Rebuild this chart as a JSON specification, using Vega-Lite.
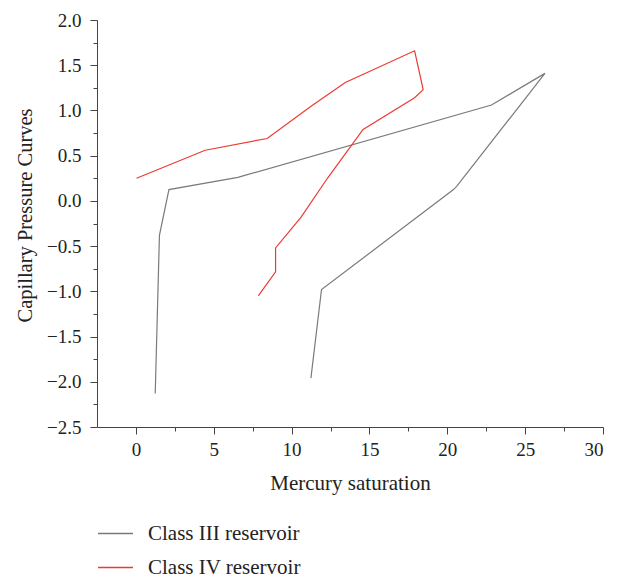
{
  "$schema": "https://vega.github.io/schema/vega-lite/v6.json",
  "width": 506,
  "height": 407,
  "autosize": "none",
  "padding": {"left": 97, "top": 20, "right": 21, "bottom": 150},
  "background": "white",
  "config": {
    "view": {"stroke": null},
    "font": "Liberation Serif",
    "axis": {
      "labelFont": "Liberation Serif",
      "titleFont": "Liberation Serif",
      "grid": false,
      "domainColor": "#444",
      "tickColor": "#444",
      "labelColor": "#222",
      "titleColor": "#222",
      "labelFontSize": 19,
      "titleFontWeight": "normal",
      "labelOverlap": false
    }
  },
  "data": {
    "values": [
      {"series": "Class III reservoir", "order": 1, "x": 1.24, "y": -2.13},
      {"series": "Class III reservoir", "order": 2, "x": 1.51, "y": -0.38},
      {"series": "Class III reservoir", "order": 3, "x": 2.12, "y": 0.125},
      {"series": "Class III reservoir", "order": 4, "x": 6.55, "y": 0.26},
      {"series": "Class III reservoir", "order": 5, "x": 22.84, "y": 1.06},
      {"series": "Class III reservoir", "order": 6, "x": 26.27, "y": 1.41},
      {"series": "Class III reservoir", "order": 7, "x": 20.6, "y": 0.16},
      {"series": "Class III reservoir", "order": 8, "x": 20.4, "y": 0.125},
      {"series": "Class III reservoir", "order": 9, "x": 11.92, "y": -0.98},
      {"series": "Class III reservoir", "order": 10, "x": 11.24, "y": -1.96},
      {"series": "Class IV reservoir", "order": 1, "x": 0.04, "y": 0.25},
      {"series": "Class IV reservoir", "order": 2, "x": 4.45, "y": 0.56},
      {"series": "Class IV reservoir", "order": 3, "x": 8.43, "y": 0.69},
      {"series": "Class IV reservoir", "order": 4, "x": 11.27, "y": 1.05},
      {"series": "Class IV reservoir", "order": 5, "x": 13.45, "y": 1.31},
      {"series": "Class IV reservoir", "order": 6, "x": 17.9, "y": 1.66},
      {"series": "Class IV reservoir", "order": 7, "x": 18.45, "y": 1.23},
      {"series": "Class IV reservoir", "order": 8, "x": 17.9, "y": 1.14},
      {"series": "Class IV reservoir", "order": 9, "x": 14.59, "y": 0.79},
      {"series": "Class IV reservoir", "order": 10, "x": 12.3, "y": 0.25},
      {"series": "Class IV reservoir", "order": 11, "x": 10.61, "y": -0.18},
      {"series": "Class IV reservoir", "order": 12, "x": 8.97, "y": -0.52},
      {"series": "Class IV reservoir", "order": 13, "x": 8.97, "y": -0.785},
      {"series": "Class IV reservoir", "order": 14, "x": 7.86, "y": -1.05}
    ]
  },
  "resolve": {"axis": {"x": "independent", "y": "independent"}},
  "layer": [
    {
      "mark": {"type": "line", "opacity": 0},
      "encoding": {
        "x": {
          "field": "x",
          "type": "quantitative",
          "scale": {"domain": [-2.5, 30], "nice": false, "zero": false},
          "axis": {
            "orient": "bottom",
            "title": null,
            "labels": false,
            "domain": false,
            "tickSize": 4,
            "values": [2.5, 7.5, 12.5, 17.5, 22.5, 27.5]
          }
        },
        "y": {
          "field": "y",
          "type": "quantitative",
          "scale": {"domain": [-2.5, 2.0], "nice": false, "zero": false},
          "axis": {
            "orient": "left",
            "title": null,
            "labels": false,
            "domain": false,
            "tickSize": 4,
            "values": [-2.25, -1.75, -1.25, -0.75, -0.25, 0.25, 0.75, 1.25, 1.75]
          }
        },
        "detail": {"field": "series"},
        "order": {"field": "order", "type": "quantitative"}
      }
    },
    {
      "mark": {"type": "line", "strokeWidth": 1.2},
      "encoding": {
        "x": {
          "field": "x",
          "type": "quantitative",
          "axis": {
            "orient": "bottom",
            "title": "Mercury saturation",
            "values": [0, 5, 10, 15, 20, 25, 30],
            "format": "d",
            "tickSize": 7,
            "labelPadding": 6,
            "titleFontSize": 21,
            "titleY": 62,
            "titleBaseline": "alphabetic"
          }
        },
        "y": {
          "field": "y",
          "type": "quantitative",
          "axis": {
            "orient": "left",
            "title": "Capillary Pressure Curves",
            "values": [-2.5, -2, -1.5, -1, -0.5, 0, 0.5, 1, 1.5, 2],
            "format": ".1f",
            "tickSize": 7,
            "labelPadding": 9,
            "titleFontSize": 20.5,
            "titleX": -72,
            "titleY": 195,
            "titleBaseline": "middle"
          }
        },
        "color": {
          "field": "series",
          "type": "nominal",
          "scale": {"domain": ["Class III reservoir", "Class IV reservoir"], "range": ["#7a7a7a", "#ee3a33"]},
          "legend": {
            "title": null,
            "orient": "none",
            "legendX": 0,
            "legendY": 495,
            "direction": "vertical",
            "symbolType": "stroke",
            "symbolSize": 1225,
            "symbolStrokeWidth": 1.5,
            "labelFont": "Liberation Serif",
            "labelFontSize": 21,
            "labelColor": "#222",
            "labelOffset": 14,
            "rowPadding": 5,
            "labelLimit": 400
          }
        },
        "order": {"field": "order", "type": "quantitative"}
      }
    }
  ]
}
